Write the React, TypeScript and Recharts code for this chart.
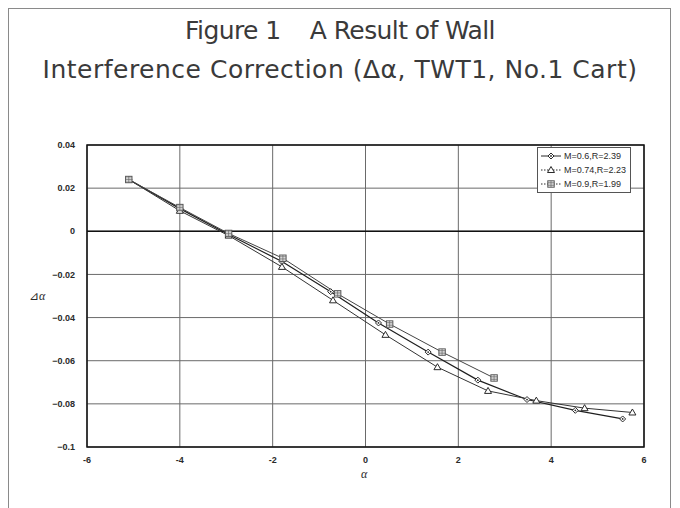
import React from 'react';
import { ComposedChart, Line, XAxis, YAxis, CartesianGrid, ReferenceLine, ReferenceArea } from 'recharts';

// α / Δα pairs
const alphaM06 = [-5.1, -4.0, -2.95, -1.8, -0.75, 0.28, 1.35, 2.42, 3.48, 4.52, 5.54];
const deltaM06 = [0.024, 0.0105, -0.0015, -0.014, -0.028, -0.0425, -0.056, -0.069, -0.078, -0.083, -0.087];

const alphaM074 = [-5.1, -4.0, -2.95, -1.8, -0.7, 0.43, 1.55, 2.64, 3.68, 4.72, 5.75];
const deltaM074 = [0.024, 0.0095, -0.002, -0.0165, -0.032, -0.048, -0.063, -0.074, -0.0785, -0.082, -0.084];

const alphaM09 = [-5.1, -4.0, -2.95, -1.78, -0.6, 0.52, 1.65, 2.77];
const deltaM09 = [0.024, 0.011, -0.001, -0.0125, -0.029, -0.043, -0.056, -0.068];

const xTicks = [-6, -4, -2, 0, 2, 4, 6];
const yTicks = [0.04, 0.02, 0, -0.02, -0.04, -0.06, -0.08, -0.1];

const seriesNames = ['M=0.6,R=2.39', 'M=0.74,R=2.23', 'M=0.9,R=1.99'];

const zip = (xs: number[], ys: number[]) => xs.map((x, i) => ({ x, y: ys[i] }));

const dataM06 = zip(alphaM06, deltaM06);
const dataM074 = zip(alphaM074, deltaM074);
const dataM09 = zip(alphaM09, deltaM09);

const INK = '#2a2a2a';

type MarkKind = 'diamond' | 'triangle' | 'square';

const Marker = ({ kind, cx, cy }: { kind: MarkKind; cx: number; cy: number }) => {
  if (kind === 'diamond') {
    return (
      <g>
        <polygon points={`${cx},${cy - 3} ${cx + 3},${cy} ${cx},${cy + 3} ${cx - 3},${cy}`} fill="#fff" stroke={INK} strokeWidth={1} />
        <circle cx={cx} cy={cy} r={0.9} fill={INK} />
      </g>
    );
  }
  if (kind === 'triangle') {
    return (
      <polygon points={`${cx},${cy - 3.5} ${cx + 3.5},${cy + 2.5} ${cx - 3.5},${cy + 2.5}`} fill="#fff" stroke={INK} strokeWidth={1} />
    );
  }
  return (
    <g>
      <rect x={cx - 3.2} y={cy - 3.2} width={6.4} height={6.4} fill="#fff" stroke="#555" strokeWidth={1} />
      <path d={`M${cx - 3.2},${cy} H${cx + 3.2} M${cx},${cy - 3.2} V${cy + 3.2} M${cx - 3.2},${cy - 1.6} H${cx + 3.2} M${cx - 3.2},${cy + 1.6} H${cx + 3.2}`} stroke="#666" strokeWidth={0.7} />
    </g>
  );
};

const makeDot = (kind: MarkKind) => (props: any) => {
  const { cx, cy, index } = props;
  if (cx == null || cy == null) return <g key={index} />;
  return <Marker key={index} kind={kind} cx={cx} cy={cy} />;
};

const legendRows: { kind: MarkKind; dash?: string }[] = [
  { kind: 'diamond' },
  { kind: 'triangle', dash: '1.5 1.5' },
  { kind: 'square', dash: '1.5 1.5' },
];

const LegendBox = () => (
  <div
    style={{
      position: 'absolute',
      left: 537,
      top: 147,
      border: '1px solid #555',
      background: '#fff',
      padding: '1px 4px 1px 2px',
      fontFamily: '"Liberation Sans", Arial, sans-serif',
      fontSize: 9,
      color: INK,
      lineHeight: '14px',
    }}
  >
    {legendRows.map((row, i) => (
      <div key={i} style={{ display: 'flex', alignItems: 'center' }}>
        <svg width={22} height={10} style={{ marginRight: 2 }}>
          <line x1={1} y1={5} x2={21} y2={5} stroke={INK} strokeWidth={1} strokeDasharray={row.dash} />
          <Marker kind={row.kind} cx={11} cy={5} />
        </svg>
        <span>{seriesNames[i]}</span>
      </div>
    ))}
  </div>
);

const tickStyle = { fontFamily: '"Liberation Sans", Arial, sans-serif', fontSize: 9, fill: INK, fontWeight: 'bold' as const };

export default function App() {
  return (
    <div style={{ position: 'fixed', left: 0, top: 0, width: 680, height: 508, background: '#fff', overflow: 'hidden' }}>
      <div
        style={{
          position: 'absolute',
          left: 8,
          top: 8,
          width: 663,
          height: 520,
          border: '1.5px solid #8a8a8a',
          boxSizing: 'border-box',
        }}
      />
      <div
        style={{
          position: 'absolute',
          left: 0,
          width: 680,
          top: 11,
          textAlign: 'center',
          fontFamily: '"DejaVu Sans", Verdana, sans-serif',
          fontSize: 25,
          lineHeight: '39px',
          color: '#3a3a3a',
        }}
      >
        <div style={{ whiteSpace: 'pre', letterSpacing: -0.6 }}>{'Figure 1    A Result of Wall'}</div>
        <div style={{ letterSpacing: 0.5 }}>Interference Correction (Δα, TWT1, No.1 Cart)</div>
      </div>
      <div
        style={{
          position: 'absolute',
          left: 29,
          top: 289,
          fontFamily: '"Liberation Serif", serif',
          fontSize: 12,
          color: INK,
        }}
      >
        ⊿<i>α</i>
      </div>
      <div
        style={{
          position: 'absolute',
          left: 361,
          top: 467,
          fontFamily: '"Liberation Serif", serif',
          fontSize: 12,
          fontStyle: 'italic',
          color: INK,
        }}
      >
        α
      </div>
      <div style={{ position: 'absolute', left: 0, top: 0 }}>
        <ComposedChart width={680} height={508} margin={{ top: 145, right: 36, bottom: 31, left: 0 }}>
          <CartesianGrid stroke="#6a6a6a" strokeWidth={1} horizontalValues={yTicks} verticalValues={xTicks} />
          <XAxis
            dataKey="x"
            type="number"
            domain={[-6, 6]}
            ticks={xTicks}
            interval={0}
            axisLine={false}
            tickLine={false}
            tick={tickStyle}
            tickMargin={4}
            height={30}
            allowDataOverflow
          />
          <YAxis
            dataKey="y"
            type="number"
            domain={[-0.1, 0.04]}
            ticks={yTicks}
            interval={0}
            axisLine={false}
            tickLine={false}
            tick={tickStyle}
            tickFormatter={(v: number) => (v === 0 ? '0' : String(Number(v.toFixed(2))).replace('-', '−'))}
            tickMargin={6}
            width={87}
            allowDataOverflow
          />
          <ReferenceLine y={0} stroke="#111" strokeWidth={1.5} />
          <ReferenceArea x1={-6} x2={6} y1={-0.1} y2={0.04} fill="none" stroke="#111" strokeWidth={1.5} />
          <Line
            data={dataM06}
            dataKey="y"
            name={seriesNames[0]}
            type="linear"
            stroke="#1e1e1e"
            strokeWidth={1.2}
            dot={makeDot('diamond')}
            activeDot={false}
            isAnimationActive={false}
          />
          <Line
            data={dataM074}
            dataKey="y"
            name={seriesNames[1]}
            type="linear"
            stroke="#333"
            strokeWidth={1}
            dot={makeDot('triangle')}
            activeDot={false}
            isAnimationActive={false}
          />
          <Line
            data={dataM09}
            dataKey="y"
            name={seriesNames[2]}
            type="linear"
            stroke="#444"
            strokeWidth={1}
            dot={makeDot('square')}
            activeDot={false}
            isAnimationActive={false}
          />
        </ComposedChart>
      </div>
      <LegendBox />
    </div>
  );
}
